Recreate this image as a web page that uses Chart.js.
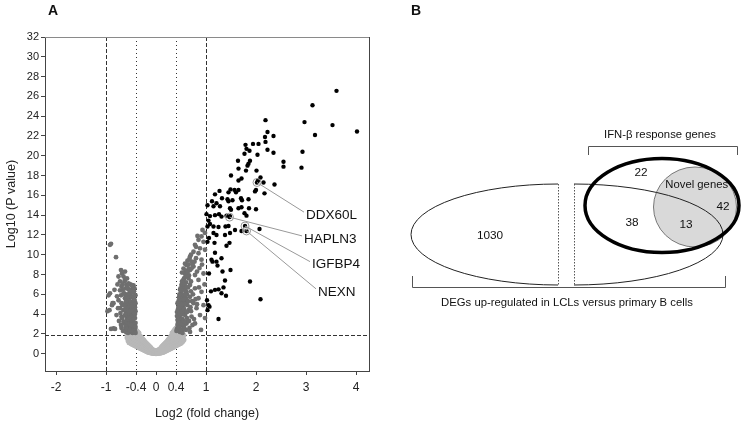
<!DOCTYPE html>
<html><head><meta charset="utf-8">
<script src="https://cdn.jsdelivr.net/npm/chart.js@4.4.1/dist/chart.umd.min.js"></script>
<style>
html,body{margin:0;padding:0;background:#fff;}
#wrapA{position:absolute;left:0;top:0;width:390px;height:425px;}
#wrapB{position:absolute;left:390px;top:0;width:355px;height:425px;}
</style></head><body>
<div id="wrapA"><canvas id="cA"></canvas></div>
<div id="wrapB"><canvas id="cB"></canvas></div>
<script>
// ---------- Panel A data ----------
const xTickValues = [-2,-1,-0.4,0,0.4,1,2,3,4];
const yTickValues = [0,2,4,6,8,10,12,14,16,18,20,22,24,26,28,30,32];

// significant, |log2FC| >= 1
const sigPoints = [
[3.61,26.56],[3.13,25.1],[2.97,23.4],[3.53,23.1],[4.02,22.45],[3.18,22.1],[2.93,20.4],[2.91,18.8],[2.55,19.4],[2.55,18.9],
[2.19,23.6],[2.23,22.4],[2.35,22.0],[2.18,21.9],[1.79,21.1],[1.94,21.2],[2.05,21.2],[2.19,21.4],[1.81,20.7],[1.87,20.5],
[2.23,20.6],[2.35,20.3],[1.77,20.2],[2.03,20.1],[1.64,19.5],[1.88,19.5],[1.85,19.2],[1.83,19.0],[1.65,18.7],[1.8,18.5],
[2.01,18.5],[1.5,18.0],[2.09,17.8],[1.71,17.7],[1.65,17.5],[2.04,17.5],[2.02,17.3],[2.15,17.3],[2.37,17.1],[2.0,16.55],
[1.98,16.4],[2.17,16.2],[1.27,16.45],[1.18,16.1],[1.45,16.3],[1.49,16.6],[1.57,16.55],[1.65,16.55],[1.6,16.3],[1.32,15.7],
[1.43,15.6],[1.45,15.4],[1.53,15.5],[1.7,15.7],[1.72,15.5],[1.85,15.6],[1.21,15.2],[1.28,14.9],[1.15,14.9],[1.48,14.7],[1.65,14.7],
[1.86,14.7],[2.0,14.6],[1.5,14.55],[1.71,14.8],[1.01,14.1],[1.08,13.9],[1.18,14.0],[1.26,14.1],[1.31,13.85],[1.41,13.95],
[1.48,13.9],[1.47,13.8],[1.77,14.2],[1.81,13.95],[1.05,13.45],[1.08,13.1],[1.03,12.85],[1.15,12.85],[1.25,12.8],[1.39,12.85],
[1.45,12.9],[1.58,12.5],[1.71,12.4],[1.78,12.9],[1.81,12.4],[2.07,12.6],[1.15,12.2],[1.21,12.0],[1.38,12.0],[1.48,12.2],
[1.06,11.7],[1.03,11.3],[1.17,11.2],[1.41,10.9],[1.47,11.2],[1.18,10.2],[1.11,9.5],[1.13,9.3],[1.21,9.3],[1.31,9.65],
[1.23,8.9],[1.49,8.45],[1.33,8.3],[1.06,8.1],[1.38,7.4],[1.88,7.3],[1.35,6.7],[1.1,6.3],[1.18,6.45],[1.25,6.5],
[1.31,6.1],[1.4,5.85],[2.09,5.5],[1.02,5.4],[1.07,4.75],[1.03,4.4],[1.25,3.5],[1.05,4.9],[1.12,15.4],[1.03,15.0]
];

// significant, 0.4 <= |log2FC| < 1
const midPoints = [
[-0.92,11.0],[-0.9,11.1],[-0.8,9.75],[-0.7,8.45],[-0.68,8.1],[-0.65,7.8],[-0.75,7.8],[-0.72,7.3],[-0.62,7.45],[-0.59,6.95],
[-0.69,6.8],[-0.55,6.5],[-0.83,6.45],[-0.92,6.1],[-0.65,6.1],[-0.52,6.1],[-0.49,5.8],[-0.62,5.6],[-0.75,5.4],[-0.85,5.1],
[-0.69,5.1],[-0.59,5.1],[-0.45,5.25],[-0.93,4.4],[-0.72,4.6],[-0.65,4.4],[-0.55,4.4],[-0.47,4.4],[-0.79,3.9],[-0.69,3.75],
[-0.59,3.7],[-0.49,3.7],[-0.42,3.6],[-0.65,3.25],[-0.55,3.1],[-0.45,3.0],[-0.85,2.55],[-0.69,2.6],[-0.61,2.6],[-0.53,2.45],
[-0.43,2.45],[-0.6,2.2],[-0.57,2.8],[-0.55,2.3],[-0.52,2.9],[-0.5,2.2],[-0.48,3.3],[-0.46,2.7],[-0.44,3.8],[-0.42,2.3],
[-0.41,3.1],[-0.58,3.5],[-0.54,3.7],[-0.5,4.0],[-0.46,4.3],[-0.42,4.7],[-0.6,4.2],[-0.56,4.8],[-0.52,4.5],[-0.48,5.0],
[-0.44,5.5],[-0.41,5.9],[-0.57,5.4],[-0.53,5.6],[-0.5,6.4],[-0.46,6.2],[-0.43,6.6],[-0.6,6.6],[-0.55,7.1],[-0.51,7.0],
[-0.62,5.0],[-0.64,3.1],[-0.67,4.9],[-0.63,7.3],[-0.58,7.6],[-0.66,6.5],[-0.7,5.9],[-0.71,4.1],[-0.76,4.6],[-0.62,3.9],
[-0.66,2.3],[-0.74,3.3],[-0.78,5.8],[-0.88,4.9],[-0.9,2.5],[-0.97,4.3],[-0.95,5.9],[-0.87,5.1],[-0.82,2.5],[-0.47,2.1],
[-0.44,4.1],[-0.5,3.4],[-0.53,5.1],[-0.45,6.9],[-0.41,4.3],[-0.48,2.6],[-0.56,2.1],[-0.43,5.0],[-0.51,4.7],[-0.47,5.7],
[-0.61,2.9],[-0.59,3.2],[-0.57,3.9],[-0.55,3.4],[-0.53,3.0],[-0.51,3.6],[-0.49,2.9],[-0.47,3.7],[-0.45,3.5],[-0.43,2.9],
[-0.41,2.7],[-0.42,4.0],[-0.44,4.6],[-0.46,4.9],[-0.48,4.5],[-0.5,5.2],[-0.52,5.8],[-0.54,5.3],[-0.56,6.0],[-0.58,5.7],
[-0.6,5.3],[-0.61,4.6],[-0.59,4.0],[-0.57,4.4],[-0.55,4.1],[-0.53,4.3],[-0.49,4.8],[-0.47,6.6],[-0.45,5.8],[-0.43,5.4],
[-0.41,5.1],[-0.44,6.3],[-0.48,6.9],[-0.53,6.4],[-0.57,6.7],[-0.61,6.0],[-0.64,6.1],[-0.67,7.0],[-0.62,8.3],[-0.72,6.4],
[-0.77,7.0],[-0.68,3.6],[-0.7,2.9],[-0.58,2.5],[-0.52,2.4],[-0.45,2.3],[-0.41,2.1],
[0.98,12.2],[0.91,11.85],[0.85,11.5],[0.95,11.3],[0.78,11.0],[0.88,10.65],[0.98,10.5],[0.75,10.3],[0.85,10.15],[0.68,9.8],
[0.8,9.65],[0.91,9.5],[0.71,9.3],[0.61,8.95],[0.75,8.8],[0.87,8.65],[0.68,8.45],[0.58,8.1],[0.78,7.95],[0.95,8.1],
[0.65,7.6],[0.55,7.45],[0.85,7.45],[0.51,6.95],[0.68,6.95],[0.78,6.6],[0.91,6.25],[0.48,6.45],[0.61,6.25],[0.51,5.95],
[0.68,5.75],[0.85,5.6],[0.48,5.4],[0.58,5.25],[0.75,5.1],[0.45,4.75],[0.55,4.6],[0.65,4.4],[0.81,4.6],[0.47,4.1],
[0.58,3.9],[0.71,3.75],[0.43,3.4],[0.51,3.25],[0.61,3.05],[0.78,3.05],[0.45,2.75],[0.55,2.55],[0.68,2.2],[0.48,2.2],
[0.42,2.5],[0.44,3.1],[0.46,2.3],[0.5,2.9],[0.53,2.1],[0.56,2.8],[0.6,2.4],[0.42,3.8],[0.46,3.6],[0.5,4.2],
[0.53,3.5],[0.57,4.3],[0.62,3.6],[0.44,4.5],[0.48,5.0],[0.52,5.3],[0.55,5.0],[0.6,5.6],[0.63,4.9],[0.46,5.7],
[0.5,6.1],[0.54,6.7],[0.58,6.4],[0.64,6.7],[0.52,7.3],[0.56,7.6],[0.6,7.2],[0.66,7.9],[0.55,8.6],[0.6,8.4],
[0.63,9.4],[0.7,10.0],[0.73,9.0],[0.8,10.8],[0.83,11.9],[0.93,12.5],[0.72,5.3],[0.74,6.0],[0.82,5.0],[0.88,3.9],
[0.9,2.4],[0.95,4.9],[0.97,7.0],[0.92,9.0],[0.76,3.5],[0.67,2.6],[0.86,6.7],[0.98,3.6],[0.53,4.0],[0.49,3.6],
[0.57,6.0],[0.62,6.0],[0.66,8.6],[0.7,7.3],[0.52,8.2],[0.58,9.1],[0.45,3.9],[0.64,5.3],[0.69,4.7],[0.73,2.9],
[0.41,2.3],[0.43,2.9],[0.45,3.5],[0.47,2.6],[0.49,3.1],[0.51,2.4],[0.53,3.0],[0.55,3.3],[0.57,2.5],[0.59,3.2],
[0.42,4.2],[0.44,3.8],[0.46,4.4],[0.48,4.0],[0.5,4.6],[0.52,4.3],[0.54,4.8],[0.56,4.5],[0.58,5.0],[0.43,5.1],
[0.45,5.3],[0.47,4.7],[0.49,5.5],[0.51,5.0],[0.53,5.8],[0.55,5.5],[0.57,5.9],[0.59,6.0],[0.47,6.0],[0.49,6.6],
[0.51,6.4],[0.53,7.0],[0.57,7.0],[0.59,7.8],[0.62,7.9],[0.61,6.7],[0.63,8.2],[0.65,9.0],[0.67,9.6],[0.71,8.6],
[0.62,4.2],[0.66,3.3],[0.7,4.3],[0.7,6.3],[0.79,5.5],[0.82,8.3],[0.77,9.3]
];

// not significant / |log2FC| < 0.4
const lowPoints = [
[-0.58,1.6],[-0.58,1.9],[-0.56,1.3],[-0.56,1.8],[-0.54,1.1],[-0.54,1.5],[-0.54,1.9],[-0.52,1.2],[-0.52,1.7],
[-0.5,1.0],[-0.5,1.4],[-0.5,1.85],[-0.48,0.95],[-0.48,1.3],[-0.48,1.7],[-0.46,0.9],[-0.46,1.2],[-0.46,1.6],[-0.46,1.95],
[-0.44,0.85],[-0.44,1.15],[-0.44,1.5],[-0.44,1.85],[-0.42,0.8],[-0.42,1.1],[-0.42,1.4],[-0.42,1.75],[-0.42,2.1],
[-0.4,0.75],[-0.4,1.05],[-0.4,1.35],[-0.4,1.7],[-0.4,2.05],[-0.4,2.4],[-0.38,0.7],[-0.38,1.0],[-0.38,1.3],[-0.38,1.65],[-0.38,2.0],[-0.38,2.3],
[-0.36,0.65],[-0.36,0.95],[-0.36,1.25],[-0.36,1.6],[-0.36,1.95],[-0.36,2.2],[-0.34,0.6],[-0.34,0.9],[-0.34,1.2],[-0.34,1.5],[-0.34,1.85],[-0.34,2.1],
[-0.32,0.55],[-0.32,0.85],[-0.32,1.15],[-0.32,1.45],[-0.32,1.75],[-0.3,0.5],[-0.3,0.8],[-0.3,1.1],[-0.3,1.4],[-0.3,1.7],
[-0.28,0.45],[-0.28,0.7],[-0.28,1.0],[-0.28,1.3],[-0.28,1.55],[-0.26,0.4],[-0.26,0.65],[-0.26,0.95],[-0.26,1.2],[-0.26,1.45],
[-0.24,0.35],[-0.24,0.6],[-0.24,0.85],[-0.24,1.1],[-0.24,1.35],[-0.22,0.3],[-0.22,0.5],[-0.22,0.75],[-0.22,1.0],[-0.22,1.2],
[-0.2,0.25],[-0.2,0.45],[-0.2,0.7],[-0.2,0.9],[-0.2,1.1],[-0.18,0.2],[-0.18,0.4],[-0.18,0.6],[-0.18,0.8],[-0.18,1.0],
[-0.16,0.15],[-0.16,0.35],[-0.16,0.55],[-0.16,0.75],[-0.16,0.9],[-0.14,0.12],[-0.14,0.3],[-0.14,0.5],[-0.14,0.65],[-0.14,0.8],
[-0.12,0.1],[-0.12,0.25],[-0.12,0.4],[-0.12,0.55],[-0.12,0.7],[-0.1,0.07],[-0.1,0.2],[-0.1,0.35],[-0.1,0.5],[-0.1,0.6],
[-0.08,0.05],[-0.08,0.15],[-0.08,0.3],[-0.08,0.45],[-0.06,0.03],[-0.06,0.12],[-0.06,0.25],[-0.06,0.4],
[-0.04,0.02],[-0.04,0.1],[-0.04,0.2],[-0.04,0.35],[-0.02,0.01],[-0.02,0.08],[-0.02,0.18],[-0.02,0.3],
[0,0.0],[0,0.07],[0,0.15],[0,0.28],
[0.02,0.01],[0.02,0.09],[0.02,0.19],[0.02,0.32],[0.04,0.02],[0.04,0.11],[0.04,0.22],[0.04,0.36],
[0.06,0.04],[0.06,0.13],[0.06,0.27],[0.06,0.42],[0.08,0.05],[0.08,0.17],[0.08,0.32],[0.08,0.48],
[0.1,0.08],[0.1,0.22],[0.1,0.37],[0.1,0.52],[0.1,0.63],[0.12,0.11],[0.12,0.27],[0.12,0.43],[0.12,0.58],[0.12,0.74],
[0.14,0.13],[0.14,0.32],[0.14,0.52],[0.14,0.68],[0.14,0.84],[0.16,0.17],[0.16,0.37],[0.16,0.58],[0.16,0.78],[0.16,0.95],
[0.18,0.21],[0.18,0.42],[0.18,0.63],[0.18,0.84],[0.18,1.05],[0.2,0.26],[0.2,0.48],[0.2,0.73],[0.2,0.95],[0.2,1.15],
[0.22,0.31],[0.22,0.53],[0.22,0.79],[0.22,1.05],[0.22,1.26],[0.24,0.36],[0.24,0.63],[0.24,0.89],[0.24,1.16],[0.24,1.42],
[0.26,0.42],[0.26,0.68],[0.26,1.0],[0.26,1.26],[0.26,1.52],[0.28,0.47],[0.28,0.74],[0.28,1.05],[0.28,1.37],[0.28,1.63],
[0.3,0.53],[0.3,0.84],[0.3,1.16],[0.3,1.47],[0.3,1.79],[0.32,0.58],[0.32,0.89],[0.32,1.21],[0.32,1.52],[0.32,1.84],[0.32,2.1],
[0.34,0.63],[0.34,0.95],[0.34,1.26],[0.34,1.58],[0.34,1.95],[0.34,2.2],[0.36,0.68],[0.36,1.0],[0.36,1.32],[0.36,1.68],[0.36,2.05],[0.36,2.35],
[0.38,0.74],[0.38,1.05],[0.38,1.37],[0.38,1.74],[0.38,2.1],[0.38,2.5],[0.4,0.79],[0.4,1.1],[0.4,1.42],[0.4,1.79],[0.4,2.15],[0.4,2.6],
[0.42,0.84],[0.42,1.16],[0.42,1.47],[0.42,1.84],[0.44,0.9],[0.44,1.2],[0.44,1.55],[0.44,1.9],[0.46,0.95],[0.46,1.26],[0.46,1.63],
[0.48,1.0],[0.48,1.35],[0.48,1.7],[0.5,1.05],[0.5,1.4],[0.5,1.8],[0.52,1.15],[0.52,1.55],[0.54,1.25],[0.54,1.7],[0.56,1.4],[0.56,1.85]
];

// labelled genes
const geneNames = ['DDX60L','HAPLN3','IGFBP4','NEXN'];
const geneLog2FC = [2.02, 1.47, 1.78, 1.81];
const geneLog10P = [17.3, 13.8, 12.9, 12.4];

// ---------- Panel B data ----------
const vennSetNames = ['IFN-\u03b2 response genes','DEGs up-regulated in LCLs versus primary B cells','Novel genes'];
const vennRegionNames = ['LCL only','IFN only','LCL & IFN','LCL & IFN & novel','IFN & novel'];
const vennCounts = [1030, 22, 38, 13, 42];

const FONT = '"Liberation Sans", Arial, Helvetica, sans-serif';
Chart.defaults.font.family = FONT;
Chart.defaults.color = '#222';

const toXY = arr => arr.map(p => ({x:p[0], y:p[1]}));

// ---------- plugins for A ----------
const frameAndRefs = {
  id:'frameAndRefs',
  beforeDatasetsDraw(chart){
    const {ctx, chartArea:a, scales:{x,y}} = chart;
    ctx.save();
    ctx.strokeStyle = '#333'; ctx.lineWidth = 1;
    const vline = (v, dash) => { const px = Math.round(x.getPixelForValue(v)) + 0.5;
      ctx.setLineDash(dash); ctx.beginPath(); ctx.moveTo(px, a.top); ctx.lineTo(px, a.bottom); ctx.stroke(); };
    vline(-1,[4,2]); vline(1,[4,2]);
    vline(-0.4,[1,3]); vline(0.4,[1,3]);
    const py = Math.round(y.getPixelForValue(1.9)) + 0.5;
    ctx.setLineDash([4,2]); ctx.beginPath(); ctx.moveTo(a.left, py); ctx.lineTo(a.right, py); ctx.stroke();
    ctx.restore();
  },
  afterDraw(chart){
    const {ctx, chartArea:a} = chart;
    ctx.save();
    ctx.lineWidth = 1;
    ctx.strokeStyle = '#8a8a8a';
    ctx.beginPath(); ctx.moveTo(a.left, Math.round(a.top)+0.5); ctx.lineTo(a.right, Math.round(a.top)+0.5); ctx.stroke();
    ctx.strokeStyle = '#444';
    ctx.beginPath(); ctx.moveTo(Math.round(a.right)+0.5, a.top); ctx.lineTo(Math.round(a.right)+0.5, a.bottom); ctx.stroke();
    ctx.fillStyle = '#111';
    ctx.font = 'bold 14px ' + FONT;
    ctx.textAlign = 'center'; ctx.textBaseline = 'middle';
    ctx.fillText('A', 53, 11);
    ctx.restore();
  }
};

const geneLabels = {
  id:'geneLabels',
  afterDatasetsDraw(chart, args, opts){
    const {ctx, scales:{x,y}} = chart;
    ctx.save();
    ctx.font = '13.5px ' + FONT;
    ctx.textAlign = 'left'; ctx.textBaseline = 'middle';
    geneNames.forEach((name, i) => {
      const px = x.getPixelForValue(geneLog2FC[i]);
      const py = y.getPixelForValue(geneLog10P[i]);
      const lx = x.getPixelForValue(opts.anchors[i][0]);
      const ly = y.getPixelForValue(opts.anchors[i][1]);
      ctx.strokeStyle = '#999'; ctx.lineWidth = 1;
      ctx.beginPath(); ctx.moveTo(px, py); ctx.lineTo(lx - 2, ly - 3); ctx.stroke();
      ctx.beginPath(); ctx.arc(px, py, 4, 0, Math.PI*2); ctx.stroke();
      ctx.fillStyle = '#111';
      ctx.fillText(name, lx, ly);
    });
    ctx.restore();
  }
};

new Chart(document.getElementById('cA'), {
  type:'scatter',
  data:{ datasets:[
    {label:'sig', data:toXY(sigPoints), backgroundColor:'#000', pointRadius:2.2, borderWidth:0, order:1},
    {label:'mid', data:toXY(midPoints), backgroundColor:'#6f6f6f', pointRadius:2.4, borderWidth:0, order:2},
    {label:'low', data:toXY(lowPoints), backgroundColor:'#b8b8b8', pointRadius:2.5, borderWidth:0, order:3}
  ]},
  options:{
    responsive:true, maintainAspectRatio:false, animation:false,
    layout:{padding:{left:0, top:37, right:21, bottom:0}},
    plugins:{legend:{display:false}, tooltip:{enabled:false},
      geneLabels:{anchors:[[3.0,14.0],[2.96,11.6],[3.12,9.0],[3.24,6.25]]}},
    scales:{
      x:{type:'linear', min:-2.22, max:4.26,
        afterBuildTicks: s => { s.ticks = xTickValues.map(v => ({value:v})); },
        afterFit: s => { s.height = 54; },
        ticks:{autoSkip:false, maxRotation:0, padding:5, font:{size:12}, color:'#222', callback:v => String(v)},
        grid:{display:true, drawOnChartArea:false, drawTicks:true, tickLength:4, color:'#444'},
        border:{display:true, color:'#444'},
        title:{display:true, text:'Log2 (fold change)', font:{size:12.5}, color:'#222', padding:{top:0,bottom:4}}
      },
      y:{type:'linear', min:-1.75, max:32,
        afterBuildTicks: s => { s.ticks = yTickValues.map(v => ({value:v})); },
        afterFit: s => { s.width = 45; },
        ticks:{autoSkip:false, padding:2, font:{size:11}, color:'#222'},
        grid:{display:true, drawOnChartArea:false, drawTicks:true, tickLength:4, color:'#444'},
        border:{display:true, color:'#444'},
        title:{display:true, text:'Log10 (P value)', font:{size:12.5}, color:'#222', padding:{top:4,bottom:0}}
      }
    }
  },
  plugins:[frameAndRefs, geneLabels]
});

// ---------- Panel B ----------
const vennPlugin = {
  id:'vennPlugin',
  afterDraw(chart, args, o){
    const {ctx, scales:{x,y}} = chart;
    const X = v => x.getPixelForValue(v), Y = v => y.getPixelForValue(v);
    const R = (v) => X(v) - X(0), RY = (v) => Math.abs(Y(v) - Y(0));
    ctx.save();
    const nv = o.novel;
    ctx.beginPath(); ctx.ellipse(X(nv.cx), Y(nv.cy), R(nv.rx), RY(nv.ry), 0, 0, Math.PI*2);
    ctx.fillStyle = '#d9d9d9'; ctx.fill();
    ctx.strokeStyle = '#777'; ctx.lineWidth = 1; ctx.stroke();
    const L = o.degLeft, Rt = o.degRight;
    ctx.strokeStyle = '#222'; ctx.lineWidth = 1;
    ctx.beginPath(); ctx.ellipse(X(L.cx), Y(L.cy), R(L.rx), RY(L.ry), 0, Math.PI/2, Math.PI*1.5); ctx.stroke();
    ctx.beginPath(); ctx.ellipse(X(Rt.cx), Y(Rt.cy), R(Rt.rx), RY(Rt.ry), 0, -Math.PI/2, Math.PI/2); ctx.stroke();
    ctx.setLineDash([1.5,1.5]); ctx.strokeStyle = '#555';
    [L, Rt].forEach(e => { const px = Math.round(X(e.cx)) + 0.5;
      ctx.beginPath(); ctx.moveTo(px, Y(e.cy - e.ry)); ctx.lineTo(px, Y(e.cy + e.ry)); ctx.stroke(); });
    ctx.setLineDash([]);
    const f = o.ifn;
    ctx.beginPath(); ctx.ellipse(X(f.cx), Y(f.cy), R(f.rx), RY(f.ry), 0, 0, Math.PI*2);
    ctx.strokeStyle = '#000'; ctx.lineWidth = 3.5; ctx.stroke();
    ctx.strokeStyle = '#555'; ctx.lineWidth = 1;
    const tb = o.topBracket, bb = o.botBracket;
    ctx.beginPath();
    ctx.moveTo(X(tb.x0)+0.5, Y(tb.y1)); ctx.lineTo(X(tb.x0)+0.5, Y(tb.y0)+0.5);
    ctx.lineTo(X(tb.x1)+0.5, Y(tb.y0)+0.5); ctx.lineTo(X(tb.x1)+0.5, Y(tb.y1)); ctx.stroke();
    ctx.beginPath();
    ctx.moveTo(X(bb.x0)+0.5, Y(bb.y1)); ctx.lineTo(X(bb.x0)+0.5, Y(bb.y0)+0.5);
    ctx.lineTo(X(bb.x1)+0.5, Y(bb.y0)+0.5); ctx.lineTo(X(bb.x1)+0.5, Y(bb.y1)); ctx.stroke();
    ctx.fillStyle = '#111'; ctx.textAlign = 'center'; ctx.textBaseline = 'middle';
    ctx.font = '11.3px ' + FONT;
    ctx.fillText(vennSetNames[0], X(o.setLabelPos[0][0]), Y(o.setLabelPos[0][1]));
    ctx.fillText(vennSetNames[1], X(o.setLabelPos[1][0]), Y(o.setLabelPos[1][1]));
    ctx.fillText(vennSetNames[2], X(o.setLabelPos[2][0]), Y(o.setLabelPos[2][1]));
    ctx.font = '11.8px ' + FONT;
    vennCounts.forEach((c, i) => ctx.fillText(String(c), X(o.countPos[i][0]), Y(o.countPos[i][1])));
    ctx.font = 'bold 14px ' + FONT;
    ctx.fillText('B', X(26), Y(11));
    ctx.restore();
  }
};

new Chart(document.getElementById('cB'), {
  type:'scatter',
  data:{datasets:[{data:[]}]},
  options:{
    responsive:true, maintainAspectRatio:false, animation:false,
    layout:{padding:0},
    plugins:{legend:{display:false}, tooltip:{enabled:false},
      vennPlugin:{
        novel:{cx:305, cy:207, rx:41.5, ry:40},
        degLeft:{cx:168, cy:234.5, rx:147, ry:50.5},
        degRight:{cx:184, cy:234.5, rx:149, ry:50.5},
        ifn:{cx:272, cy:205.5, rx:77, ry:47},
        topBracket:{x0:198, x1:347, y0:146, y1:155},
        botBracket:{x0:22, x1:335, y0:287, y1:276},
        setLabelPos:[[270,135],[177,303],[306.7,185]],
        countPos:[[100,236],[251,173],[242,223],[296,225],[333,207]]
      }},
    scales:{
      x:{type:'linear', min:0, max:355, display:false},
      y:{type:'linear', min:0, max:425, reverse:true, display:false}
    }
  },
  plugins:[vennPlugin]
});
</script>
</body></html>
